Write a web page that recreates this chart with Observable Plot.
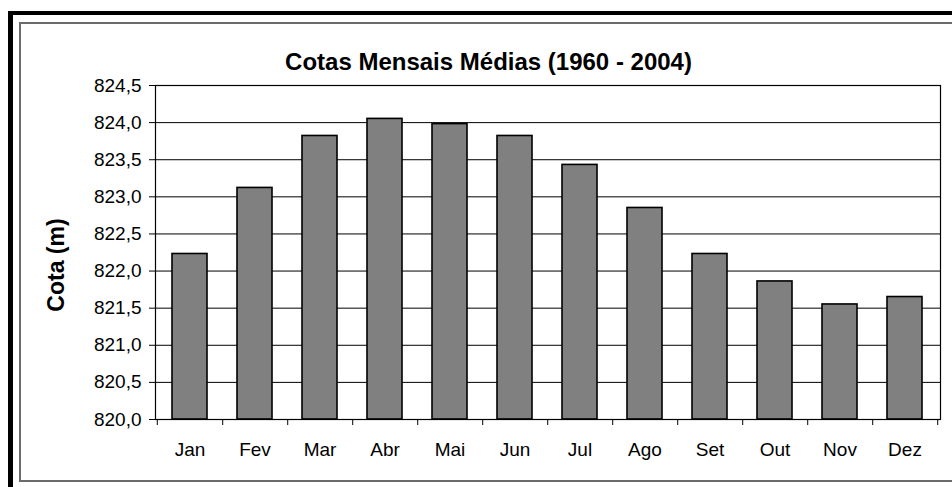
<!DOCTYPE html>
<html>
<head>
<meta charset="utf-8">
<script src="https://cdn.jsdelivr.net/npm/d3@7"></script>
<script src="https://cdn.jsdelivr.net/npm/@observablehq/plot@0.6"></script>
<style>
  html, body { margin: 0; padding: 0; background: #fff; }
  body { width: 952px; height: 487px; position: relative; overflow: hidden; }
  #outer { position: absolute; left: 8px; top: 11px; width: 960px; height: 490px;
           border-left: 5px solid #000; border-top: 4px solid #000; box-sizing: border-box; }
  #inner { position: absolute; left: 19px; top: 22px; width: 960px; height: 460px;
           border: 2px solid #6b6b6b; border-right: none; box-sizing: border-box; }
  #chart { position: absolute; left: 0; top: 0; }
</style>
</head>
<body>
<div id="outer"></div>
<div id="inner"></div>
<div id="chart"></div>
<script>
const months = ["Jan","Fev","Mar","Abr","Mai","Jun","Jul","Ago","Set","Out","Nov","Dez"];
const values = [822.23, 823.12, 823.82, 824.05, 823.98, 823.82, 823.43, 822.85, 822.23, 821.86, 821.55, 821.65];
const yTicks = [820.0, 820.5, 821.0, 821.5, 822.0, 822.5, 823.0, 823.5, 824.0, 824.5];
const title = "Cotas Mensais Médias (1960 - 2004)";
const yLabel = "Cota (m)";

const data = months.map((m, i) => ({month: m, value: values[i]}));

const W = 952, H = 487;
const mL = 155, mR = 12, mT = 85, mB = 68;
const step = (W - mL - mR) / months.length;
const fmt = d => d.toFixed(1).replace(".", ",");

const chart = Plot.plot({
  width: W,
  height: H,
  marginLeft: mL,
  marginRight: mR,
  marginTop: mT,
  marginBottom: mB,
  style: {
    fontFamily: "'Liberation Sans', Arial, sans-serif",
    fontSize: "19px",
    color: "#000",
    background: "transparent",
    overflow: "visible"
  },
  x: {
    type: "band",
    domain: months,
    paddingInner: 0.46,
    paddingOuter: 0.23,
    tickSize: 0,
    tickPadding: 23,
    label: null
  },
  y: {
    domain: [820, 824.5],
    ticks: yTicks,
    tickFormat: fmt,
    tickSize: 6,
    tickPadding: 8,
    label: null
  },
  marks: [
    Plot.ruleY(yTicks, {stroke: "#000", strokeWidth: 1}),
    Plot.barY(data, {x: "month", y1: 820, y2: "value", fill: "#808080", stroke: "#000", strokeWidth: 1.6}),
    Plot.frame({stroke: "#000", strokeWidth: 1.2}),
    Plot.ruleX(months, {x: d => d, y1: 820, y2: 820, insetTop: 0, insetBottom: -6, dx: step / 2, stroke: "#000"}),
    Plot.ruleX([months[0]], {x: d => d, y1: 820, y2: 820, insetTop: 0, insetBottom: -6, dx: -step / 2, stroke: "#000"}),
    Plot.text([title], {frameAnchor: "top", textAnchor: "middle", dx: -59.5, dy: -32.5, fontWeight: "bold", fontSize: 24, fill: "#000"}),
    Plot.text([yLabel], {frameAnchor: "left", textAnchor: "middle", rotate: -90, dx: -99, dy: 12.5, fontWeight: "bold", fontSize: 23, fill: "#000"})
  ]
});
document.getElementById("chart").appendChild(chart);
</script>
</body>
</html>
